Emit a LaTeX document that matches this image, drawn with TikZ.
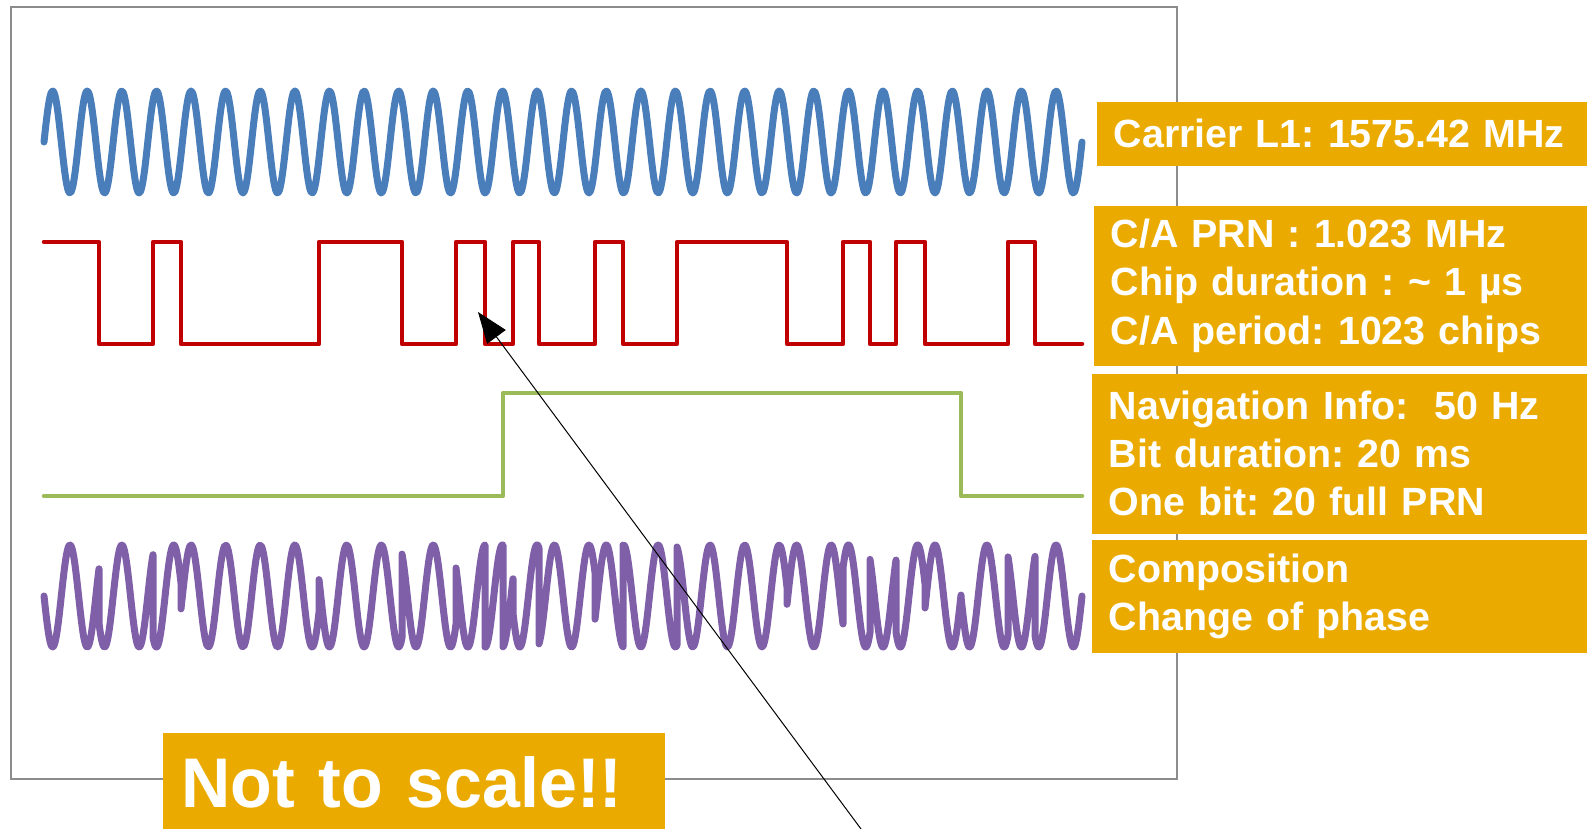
\documentclass[tikz,border=0pt]{standalone}
\usepackage{fontspec}
\setmainfont{Liberation Sans}
\usepackage{tikz}
\usetikzlibrary{arrows.meta}
\definecolor{carrierblue}{HTML}{4A7EBB}
\definecolor{prnred}{HTML}{C00000}
\definecolor{navgreen}{HTML}{9BBB59}
\definecolor{mixpurple}{HTML}{7F5FA8}
\definecolor{labelorange}{HTML}{EAAA00}
\definecolor{framegray}{HTML}{8C8C8C}
\frenchspacing

\begin{document}
\begin{tikzpicture}[x=0.1mm,y=-0.1mm,
    wave/.style={line width=0.7mm,line join=round,line cap=round},
    infobox/.style={fill=labelorange,text=white,anchor=north west,align=left,
      inner xsep=1.7mm,inner ysep=0pt,font=\bfseries\fontsize{11.2}{13.7}\selectfont}]
    \useasboundingbox (0,0) rectangle (1587,829);
    \draw[framegray,line width=0.25mm] (11,7) rectangle (1177,779);
    % carrier
    \draw[wave,carrierblue,domain=44:1082,samples=700,smooth] plot (\x,{142-51*sin(10.4046*(\x-44))});
    % PRN chips
    \draw[wave,prnred,line width=0.45mm] (44,242) -| (99,344) -| (153,242) -| (181,344) -| (319,242)
      -| (402,344) -| (456,242) -| (485,344) -| (513,242) -| (539,344) -| (595,242) -| (623,344)
      -| (677,242) -| (787,344) -| (843,242) -| (870,344) -| (896,242) -| (925,344) -| (1008,242)
      -| (1035,344) -- (1082,344);
    % navigation bit
    \draw[wave,navgreen,line width=0.45mm] (44,496) -| (503,393) -| (961,496) -- (1082,496);
    % composition
    \draw[wave,mixpurple] (44,596)
      \foreach \a/\b/\s in {44/99/-1,99/153/1,153/181/-1,181/319/1,319/402/-1,402/456/1,456/485/-1,
        485/503/1,503/513/-1,513/539/1,539/595/-1,595/623/1,623/677/-1,677/787/1,787/843/-1,
        843/870/1,870/896/-1,896/925/1,925/961/-1,961/1008/1,1008/1035/-1,1035/1082/1}
      { -- plot[domain=\a:\b,samples=80,smooth] (\x,{596-51*(\s)*sin(10.4046*(\x-44))}) };
    \node[infobox,minimum height=6.4mm,text width=45.7mm] (carrier) at (1096,101) {Carrier L1: 1575.42 MHz};
    \node[infobox,minimum height=16mm,text width=46.0mm] (prn) at (1093,205)
      {C/A PRN : 1.023 MHz\\Chip duration : \textasciitilde\ 1 µs\\C/A period: 1023 chips};
    \node[infobox,minimum height=16mm,text width=46.2mm] (nav) at (1091,373)
      {Navigation Info:\ \ 50 Hz\\Bit duration: 20 ms\\One bit: 20 full PRN};
    \node[infobox,minimum height=11.3mm,text width=46.2mm] (mix) at (1091,539)
      {Composition\\Change of phase};
    \node[infobox,inner xsep=1.9mm,font=\bfseries\fontsize{20}{24}\selectfont\addfontfeature{FakeStretch=0.97},
      minimum height=10mm,text width=46.4mm] (note) at (162,732) {Not to scale!!};
    \coordinate (tail) at (861,829);
    \coordinate (tip) at (478,312);
    \draw[-{Triangle[length=3.1mm,width=2.3mm]},line width=0.1mm] (tail) -- (tip);
  \end{tikzpicture}
\end{document}
